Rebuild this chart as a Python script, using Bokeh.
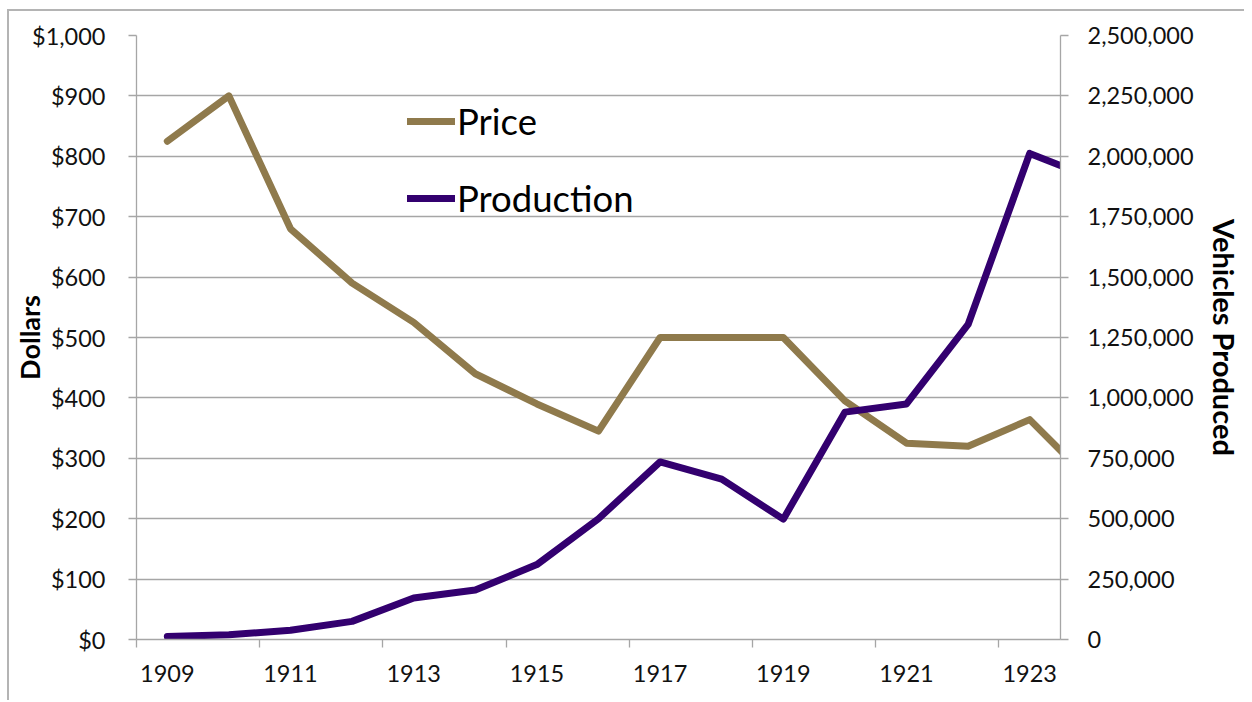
from bokeh.plotting import figure
from bokeh.models import (Range1d, LinearAxis, FixedTicker, NumeralTickFormatter,
                          Legend, LegendItem)
from bokeh.embed import file_html
from bokeh.resources import INLINE

# ---- data ----
years = [1909, 1910, 1911, 1912, 1913, 1914, 1915, 1916,
         1917, 1918, 1919, 1920, 1921, 1922, 1923, 1924]
price = [825, 900, 680, 590, 525, 440, 390, 345,
         500, 500, 500, 395, 325, 320, 364, 262]
production = [12000, 20000, 38000, 75000, 172000, 205000, 310000, 500000,
              735000, 664000, 498000, 941000, 975000, 1304000, 2012000, 1912000]
label_years = [1909, 1911, 1913, 1915, 1917, 1919, 1921, 1923]
year_labels = ["1909", "1911", "1913", "1915", "1917", "1919", "1921", "1923"]
dollar_ticks = [0, 100, 200, 300, 400, 500, 600, 700, 800, 900, 1000]
vehicle_ticks = [0, 250000, 500000, 750000, 1000000, 1250000,
                 1500000, 1750000, 2000000, 2250000, 2500000]

FONT = "Lato"
GRID = "#a6a6a6"
PRICE_C = "#8f7a4c"
PROD_C = "#33006f"
TXT = "#111111"
TICK_FS = "23.5px"

p = figure(width=1244, height=700, output_backend="svg", toolbar_location=None,
           x_range=Range1d(1908.5, 1923.5), y_range=Range1d(0, 1000),
           min_border_left=136, min_border_right=178, min_border_top=35,
           min_border_bottom=61)
p.extra_y_ranges = {"prod": Range1d(0, 2500000)}
p.outline_line_color = None
p.background_fill_color = "white"
p.border_fill_alpha = 0
# outer chart border (only its top and left edges are inside the picture)
p.styles = {
    "background": "linear-gradient(#b4b4b4, #b4b4b4) 7px 9px / 2px calc(100% - 9px) no-repeat, "
                  "linear-gradient(#b4b4b4, #b4b4b4) 7px 9px / calc(100% - 7px) 2px no-repeat, "
                  "white"
}

# grid
p.xgrid.visible = False
p.ygrid.grid_line_color = GRID
p.ygrid.grid_line_width = 1.3

# left axis
ya = p.yaxis[0]
ya.ticker = FixedTicker(ticks=dollar_ticks)
ya.formatter = NumeralTickFormatter(format="$0,0")
ya.major_tick_out = 8
ya.major_tick_in = 0
ya.minor_tick_line_color = None
ya.axis_line_color = GRID
ya.axis_line_width = 1.3
ya.major_tick_line_color = GRID
ya.major_tick_line_width = 1.3
ya.major_label_standoff = 23
ya.major_label_text_font = FONT
ya.major_label_text_font_size = TICK_FS
ya.major_label_text_color = TXT
ya.axis_label = "Dollars"
ya.axis_label_text_font = FONT
ya.axis_label_text_font_style = "bold"
ya.axis_label_text_font_size = "27px"
ya.axis_label_text_color = "black"
ya.axis_label_standoff = -17

# right axis
ra = LinearAxis(y_range_name="prod", ticker=FixedTicker(ticks=vehicle_ticks),
                formatter=NumeralTickFormatter(format="0,0"))
ra.major_tick_out = 8
ra.major_tick_in = 0
ra.minor_tick_line_color = None
ra.axis_line_color = GRID
ra.axis_line_width = 1.3
ra.major_tick_line_color = GRID
ra.major_tick_line_width = 1.3
ra.major_label_standoff = 19
ra.major_label_text_font = FONT
ra.major_label_text_font_size = TICK_FS
ra.major_label_text_color = TXT
ra.axis_label = "Vehicles Produced"
ra.axis_label_text_font = FONT
ra.axis_label_text_font_style = "bold"
ra.axis_label_text_font_size = "29px"
ra.axis_label_text_color = "black"
ra.axis_label_standoff = 10
p.add_layout(ra, "right")

# bottom axis: labels on the years, tick marks between category pairs
xa = p.xaxis[0]
xa.ticker = FixedTicker(ticks=label_years, minor_ticks=[y - 0.5 for y in label_years])
xa.major_label_overrides = {y: s for y, s in zip(label_years, year_labels)}
xa.major_tick_line_color = None
xa.major_tick_out = 0
xa.major_tick_in = 0
xa.minor_tick_out = 8
xa.minor_tick_in = 0
xa.minor_tick_line_color = GRID
xa.minor_tick_line_width = 1.3
xa.axis_line_color = GRID
xa.axis_line_width = 1.3
xa.major_label_standoff = 17
xa.major_label_text_font = FONT
xa.major_label_text_font_size = TICK_FS
xa.major_label_text_color = TXT

# lines
r1 = p.line(years, price, line_color=PRICE_C, line_width=7,
            line_join="round", line_cap="round")
r2 = p.line(years, production, y_range_name="prod", line_color=PROD_C,
            line_width=7, line_join="round", line_cap="round")

legend = Legend(items=[LegendItem(label="Price", renderers=[r1]),
                       LegendItem(label="Production", renderers=[r2])],
                location=(271, 419), orientation="vertical",
                border_line_color=None, background_fill_alpha=0,
                label_text_font=FONT, label_text_font_size="36.5px",
                label_text_color="black",
                glyph_width=48, glyph_height=40, label_height=40,
                spacing=33, padding=0, margin=0, label_standoff=2)
p.add_layout(legend)

open("out.html", "w").write(file_html(p, INLINE))
